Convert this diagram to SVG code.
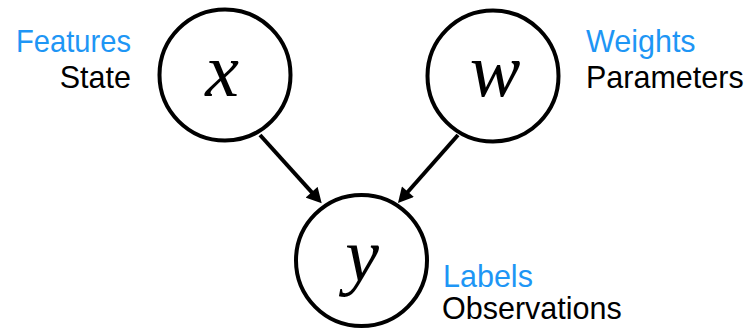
<svg xmlns="http://www.w3.org/2000/svg" width="747" height="328" viewBox="0 0 747 328">
<style>
.node{fill:#fff;stroke:#000;stroke-width:4}
.math{font-family:"Liberation Serif","Times New Roman",serif;font-style:italic;font-size:76px;fill:#000;text-anchor:middle}
.lbl{font-family:"Liberation Sans",Arial,sans-serif;font-size:30.5px}
.blue{fill:#1E96F5}
.blk{fill:#000}
.edge{fill:none;stroke:#000;stroke-width:4}
</style>
<defs>
<marker id="arr" markerUnits="userSpaceOnUse" markerWidth="16" markerHeight="16" refX="5" refY="8" orient="auto" viewBox="0 0 15 16">
<path d="M0,0 L15,8 L0,16 z" fill="#000"/>
</marker>
</defs>
<rect width="747" height="328" fill="#fff"/>
<g id="connectors">
<path class="edge" d="M260,135 L315,195.9" marker-end="url(#arr)"/>
<path class="edge" d="M458,135 L404.6,195.5" marker-end="url(#arr)"/>
</g>
<g id="node-x">
<circle class="node" cx="225" cy="75" r="65.5"/>
<text class="math" x="222" y="96">x</text>
<text class="lbl blue" x="131" y="52" text-anchor="end" textLength="115" lengthAdjust="spacingAndGlyphs">Features</text>
<text class="lbl blk" x="131" y="88" text-anchor="end">State</text>
</g>
<g id="node-w">
<circle class="node" cx="493" cy="76" r="65.5"/>
<text class="math" x="495" y="96">w</text>
<text class="lbl blue" x="586" y="52">Weights</text>
<text class="lbl blk" x="586" y="88">Parameters</text>
</g>
<g id="node-y">
<circle class="node" cx="361.5" cy="260.5" r="65.5"/>
<text class="math" x="362" y="281">y</text>
<text class="lbl blue" x="443" y="287">Labels</text>
<text class="lbl blk" x="442" y="319">Observations</text>
</g>
</svg>
